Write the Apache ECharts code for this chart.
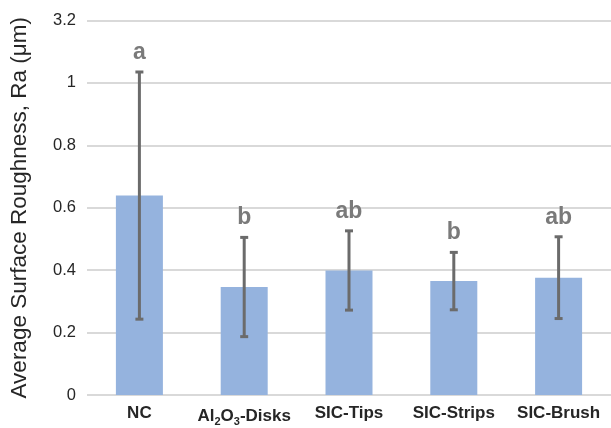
<!DOCTYPE html>
<html><head><meta charset="utf-8">
<script src="https://cdn.jsdelivr.net/npm/echarts@6/dist/echarts.min.js"></script>
<style>html,body{margin:0;padding:0;background:#fff}#c{width:611px;height:428px}</style>
</head><body><div id="c"></div>
<script>
const categories = ['NC', 'Al2O3-Disks', 'SIC-Tips', 'SIC-Strips', 'SIC-Brush'];
const means = [0.639, 0.346, 0.399, 0.365, 0.376];
const errors = [0.396, 0.159, 0.127, 0.092, 0.131];
const letters = ['a', 'b', 'ab', 'b', 'ab'];
const yTickLabels = {0: '0', 0.2: '0.2', 0.4: '0.4', 0.6: '0.6', 0.8: '0.8', 1: '1', 1.2: '3.2'};

const chart = echarts.init(document.getElementById('c'), null, {renderer: 'canvas'});
const errData = means.map((m, i) => [i, m - errors[i], m + errors[i], letters[i]]);
chart.setOption({
  animation: false,
  grid: {left: 85, right: -4, top: 20.5, bottom: 33},
  xAxis: {
    type: 'category', data: categories,
    axisLine: {show: false}, axisTick: {show: false},
    axisLabel: {
      interval: 0, margin: 10, fontFamily: 'Liberation Sans, Arial', fontWeight: 'bold', fontSize: 17, color: '#262626',
      formatter: v => v === 'Al2O3-Disks' ? '{n|Al}{s|2}{n|O}{s|3}{n|-Disks}' : v,
      rich: {
        n: {fontFamily: 'Liberation Sans, Arial', fontWeight: 'bold', fontSize: 17, color: '#262626'},
        s: {fontFamily: 'Liberation Sans, Arial', fontWeight: 'bold', fontSize: 11, color: '#262626', verticalAlign: 'bottom', padding: [11, 0, 0, 0]}
      }
    }
  },
  yAxis: {
    type: 'value', min: 0, max: 1.2, interval: 0.2,
    name: 'Average Surface Roughness, Ra (μm)', nameLocation: 'middle', nameGap: 56,
    nameTextStyle: {fontFamily: 'Liberation Sans, Arial', fontSize: 22.5, color: '#262626'},
    axisLine: {show: false}, axisTick: {show: false},
    axisLabel: {
      margin: 11, fontFamily: 'Liberation Sans, Arial', fontSize: 16.5, color: '#262626',
      formatter: v => { const k = Math.round(v * 10) / 10; return yTickLabels[k] !== undefined ? yTickLabels[k] : ''; }
    },
    splitLine: {lineStyle: {color: '#d9d9d9', width: 2}}
  },
  series: [
    {type: 'bar', data: means, barWidth: 47, itemStyle: {color: '#95b3de'}},
    {
      type: 'custom', data: errData, z: 5,
      renderItem: (params, api) => {
        const x = api.value(0);
        const lo = api.coord([x, api.value(1)]);
        const hi = api.coord([x, api.value(2)]);
        const cw = 4;
        const st = {stroke: '#6b6b6b', lineWidth: 3};
        return {type: 'group', children: [
          {type: 'line', shape: {x1: lo[0], y1: lo[1], x2: hi[0], y2: hi[1]}, style: st},
          {type: 'line', shape: {x1: lo[0] - cw, y1: lo[1], x2: lo[0] + cw, y2: lo[1]}, style: st},
          {type: 'line', shape: {x1: hi[0] - cw, y1: hi[1], x2: hi[0] + cw, y2: hi[1]}, style: st},
          {type: 'text', x: hi[0], y: hi[1] - 8, style: {
            text: letters[params.dataIndex], textAlign: 'center', textVerticalAlign: 'bottom',
            fontFamily: 'Liberation Sans, Arial', fontWeight: 'bold', fontSize: 23, fill: '#7a7a7a'}}
        ]};
      }
    }
  ]
});
</script></body></html>
